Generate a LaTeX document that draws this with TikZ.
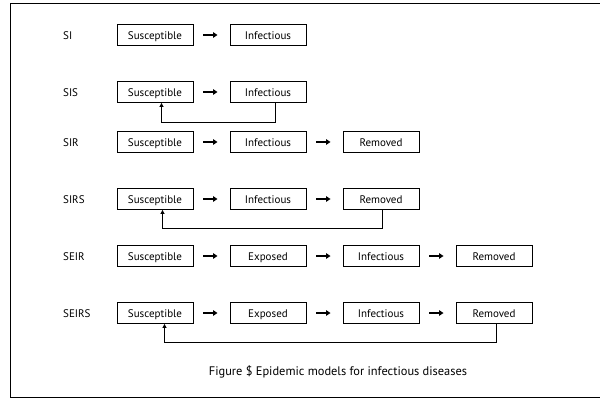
\documentclass[tikz,border=0pt]{standalone}
\usepackage{fontspec}
\setmainfont{PT Sans}
\usetikzlibrary{arrows.meta}
\begin{document}
\begin{tikzpicture}[x=1pt,y=-1pt,
  txt/.style={font=\fontsize{11}{13}\selectfont,text height=10pt,text depth=1pt},
  box/.style={draw,line width=0.9pt,minimum width=76pt,minimum height=21pt,inner sep=0pt,txt},
  lbl/.style={anchor=west,inner sep=0pt,txt},
  flow/.style={line width=2pt,-{Triangle[length=4.5pt,width=5.5pt]},shorten <=10pt,shorten >=12pt},
  back/.style={line width=1pt,-{Triangle[length=4pt,width=4pt]}}]
\useasboundingbox (0,0) rectangle (600,401);
\draw[line width=1.3pt] (606,3.5) -- (10.5,3.5) -- (10.5,397.5) -- (606,397.5);
% SI
\node[lbl] (l1) at (63,35) {SI};
\node[box] (s1) at (155,35) {Susceptible};
\node[box] (i1) at (268,35) {Infectious};
\draw[flow] (s1) -- (i1);
% SIS
\node[lbl] (l2) at (63,92) {SIS};
\node[box] (s2) at (155,92) {Susceptible};
\node[box] (i2) at (268,92) {Infectious};
\draw[flow] (s2) -- (i2);
\coordinate (c2) at (275.5,122.5);
\draw[back] (i2.south -| c2) -- (c2) -- (c2 -| 161.5,0) -- (s2.south -| 161.5,0);
% SIR
\node[lbl] (l3) at (63,142) {SIR};
\node[box] (s3) at (155,142) {Susceptible};
\node[box] (i3) at (268,142) {Infectious};
\node[box] (r3) at (381,142) {Removed};
\draw[flow] (s3) -- (i3);
\draw[flow] (i3) -- (r3);
% SIRS
\node[lbl] (l4) at (63,199) {SIRS};
\node[box] (s4) at (155,199) {Susceptible};
\node[box] (i4) at (268,199) {Infectious};
\node[box] (r4) at (381,199) {Removed};
\draw[flow] (s4) -- (i4);
\draw[flow] (i4) -- (r4);
\coordinate (c4) at (382.5,228.5);
\draw[back] (r4.south -| c4) -- (c4) -- (c4 -| 162.5,0) -- (s4.south -| 162.5,0);
% SEIR
\node[lbl] (l5) at (63,256) {SEIR};
\node[box] (s5) at (155,256) {Susceptible};
\node[box] (e5) at (268,256) {Exposed};
\node[box] (i5) at (381,256) {Infectious};
\node[box] (r5) at (494,256) {Removed};
\draw[flow] (s5) -- (e5);
\draw[flow] (e5) -- (i5);
\draw[flow] (i5) -- (r5);
% SEIRS
\node[lbl] (l6) at (63,313) {SEIRS};
\node[box] (s6) at (155,313) {Susceptible};
\node[box] (e6) at (268,313) {Exposed};
\node[box] (i6) at (381,313) {Infectious};
\node[box] (r6) at (494,313) {Removed};
\draw[flow] (s6) -- (e6);
\draw[flow] (e6) -- (i6);
\draw[flow] (i6) -- (r6);
\coordinate (c6) at (496.5,342.5);
\draw[back] (r6.south -| c6) -- (c6) -- (c6 -| 164.5,0) -- (s6.south -| 164.5,0);
% caption
\node[inner sep=0pt,anchor=base,font=\fontsize{12.4}{14}\selectfont] (cap) at (338,375) {Figure \$ Epidemic models for infectious diseases};
\end{tikzpicture}
\end{document}
